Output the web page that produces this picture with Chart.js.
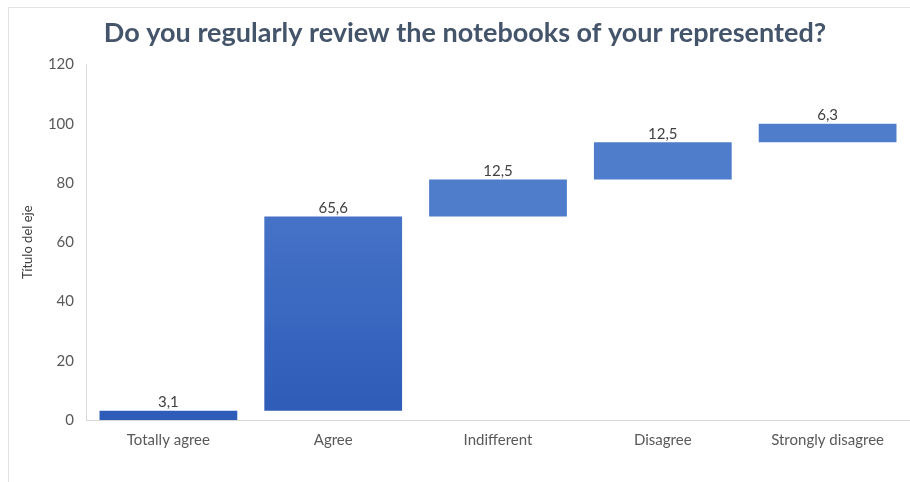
<!DOCTYPE html>
<html>
<head>
<meta charset="utf-8">
<script src="https://cdn.jsdelivr.net/npm/chart.js@4.4.1/dist/chart.umd.min.js"></script>
<style>
  html, body { margin: 0; padding: 0; background: #fff; }
  #wrap { width: 910px; height: 482px; }
</style>
</head>
<body>
<div id="wrap"><canvas id="chart" width="910" height="482"></canvas></div>
<script>
const categories = ["Totally agree", "Agree", "Indifferent", "Disagree", "Strongly disagree"];
const values = [3.1, 65.6, 12.5, 12.5, 6.3];
const yTicks = [0, 20, 40, 60, 80, 100, 120];

// waterfall: each bar floats from the running total
let running = 0;
const floating = values.map(v => {
  const seg = [running, running + v];
  running += v;
  return seg;
});

const fontFamily = "Lato, 'Open Sans', sans-serif";
const textColor = "#595959";

const valueLabels = {
  id: "valueLabels",
  afterDatasetsDraw(chart) {
    const { ctx } = chart;
    const meta = chart.getDatasetMeta(0);
    ctx.save();
    ctx.font = "15px " + fontFamily;
    ctx.fillStyle = "#404040";
    ctx.textAlign = "center";
    ctx.textBaseline = "bottom";
    meta.data.forEach((bar, i) => {
      ctx.fillText(values[i].toFixed(1).replace(".", ","), bar.x, bar.y - 1);
    });
    ctx.restore();
  }
};

const frame = {
  id: "frame",
  beforeDraw(chart) {
    const { ctx } = chart;
    ctx.save();
    ctx.strokeStyle = "#e3e3e3";
    ctx.lineWidth = 1;
    ctx.strokeRect(8.5, 7.5, 920, 500);
    ctx.restore();
  }
};

const ctx = document.getElementById("chart").getContext("2d");
new Chart(ctx, {
  type: "bar",
  data: {
    labels: categories,
    datasets: [{
      data: floating,
      borderSkipped: false,
      borderWidth: 0,
      backgroundColor: (c) => {
        const i = c.dataIndex;
        if (i === 0) return "#2f5cb8";
        if (i === 1) {
          const y = c.chart.scales.y;
          if (!y) return "#3a67c0";
          const top = y.getPixelForValue(floating[1][1]);
          const bottom = y.getPixelForValue(floating[1][0]);
          if (!isFinite(top) || !isFinite(bottom) || top === bottom) return "#3a67c0";
          const g = c.chart.ctx.createLinearGradient(0, top, 0, bottom);
          g.addColorStop(0, "#4672c7");
          g.addColorStop(1, "#2e5cb8");
          return g;
        }
        return "#4f7dcb";
      },
      barPercentage: 0.836,
      categoryPercentage: 1.0
    }]
  },
  options: {
    responsive: false,
    animation: false,
    layout: { padding: { left: 20, right: 0, top: 0, bottom: 0 } },
    plugins: {
      legend: { display: false },
      tooltip: { enabled: false },
      title: {
        display: true,
        text: "Do you regularly review the notebooks of your represented?",
        color: "#44546a",
        font: { family: fontFamily, size: 27, weight: "bold" },
        padding: { top: 17, bottom: 15 }
      }
    },
    scales: {
      x: {
        grid: { display: false, drawTicks: false },
        border: { display: true, color: "#d9d9d9", width: 1 },
        ticks: { color: textColor, font: { family: fontFamily, size: 15 }, padding: 11, maxRotation: 0 },
        afterFit: (s) => { s.height = 62; }
      },
      y: {
        min: 0,
        max: 120,
        afterBuildTicks: (s) => { s.ticks = yTicks.map(v => ({ value: v })); },
        grid: { display: false, drawTicks: false },
        border: { display: true, color: "#d9d9d9", width: 1 },
        ticks: { color: textColor, font: { family: fontFamily, size: 15 }, padding: 12 },
        title: {
          display: true,
          text: "Título del eje",
          color: "#404040",
          font: { family: fontFamily, size: 13 },
          padding: { top: 0, bottom: 0 }
        },
        afterFit: (s) => { s.width = 66; }
      }
    }
  },
  plugins: [frame, valueLabels]
});
</script>
</body>
</html>
